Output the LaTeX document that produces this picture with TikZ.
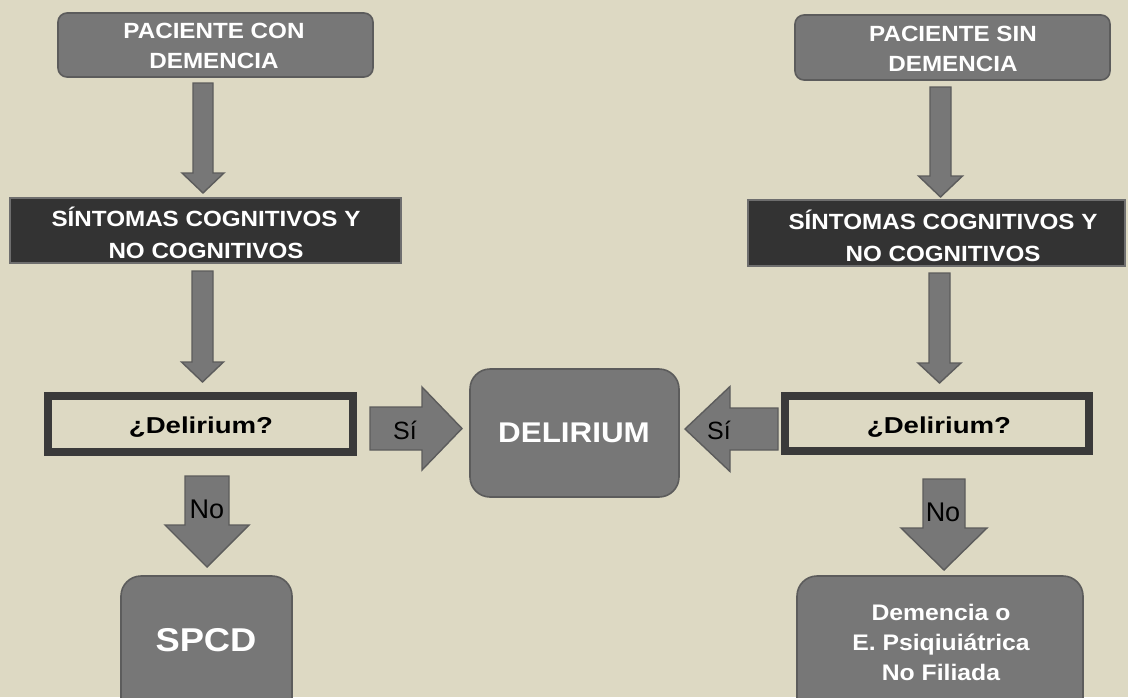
\documentclass[tikz,border=0pt]{standalone}
\usepackage{fontspec}
\setmainfont{Liberation Sans}
\newfontfamily\wfont[FakeStretch=1.1]{Liberation Sans}
\newfontfamily\xfont[FakeStretch=1.2]{Liberation Sans}
\definecolor{bgtan}{HTML}{DDD9C3}
\definecolor{boxgray}{HTML}{777777}
\definecolor{boxedge}{HTML}{5C5C5C}
\definecolor{darkbox}{HTML}{333333}
\definecolor{darkedge}{HTML}{6E6E6E}
\definecolor{frameedge}{HTML}{3A3A3A}

% vertical block arrow: centre x, top y, tip y, shaft half width, head half width, head length
\newcommand{\vblock}[6]{%
  \draw[blockarrow] ({#1-#4},#2) -- ({#1+#4},#2) -- ({#1+#4},{#3-#6}) -- ({#1+#5},{#3-#6})
    -- (#1,#3) -- ({#1-#5},{#3-#6}) -- ({#1-#4},{#3-#6}) -- cycle;}
% horizontal block arrow: centre y, tail x, tip x, shaft half width, head half width, head length (signed)
\newcommand{\hblock}[6]{%
  \draw[blockarrow] (#2,{#1-#4}) -- (#2,{#1+#4}) -- ({#3-#6},{#1+#4}) -- ({#3-#6},{#1+#5})
    -- (#3,#1) -- ({#3-#6},{#1-#5}) -- ({#3-#6},{#1-#4}) -- cycle;}

\tikzset{
  graybox/.style={draw=boxedge, line width=1.6pt, fill=boxgray, rounded corners=#1,
    text=white, align=center},
  darkbar/.style={draw=darkedge, line width=1.6pt, fill=darkbox, text=white, align=center},
  framebox/.style={draw=frameedge, line width=8pt, fill=bgtan, text=black},
  blockarrow/.style={draw=boxedge, line width=1.4pt, fill=boxgray, line join=miter},
  plainlabel/.style={inner sep=0pt, text=black},
}

\begin{document}
\begin{tikzpicture}[x=1pt, y=-1pt]
  \fill[bgtan] (0,0) rectangle (1128,697);
  \useasboundingbox (0,0) rectangle (1128,697);
  \clip (0,0) rectangle (1128,697);

  % boxes
  \draw[graybox=9pt] (58,13) rectangle (373,77);
  \node[text=white, align=center, font=\wfont\bfseries\fontsize{22}{30}\selectfont] (topL) at (214,46)
    {PACIENTE CON\\DEMENCIA};
  \draw[graybox=9pt] (795,15) rectangle (1110,80);
  \node[text=white, align=center, font=\wfont\bfseries\fontsize{22}{30}\selectfont] (topR) at (953,49)
    {PACIENTE SIN\\DEMENCIA};

  \draw[darkbar] (10,198) rectangle (401,263);
  \node[text=white, align=center, font=\wfont\bfseries\fontsize{22}{32}\selectfont] (midL) at (206,233)
    {SÍNTOMAS COGNITIVOS Y\\NO COGNITIVOS};
  \draw[darkbar] (748,200) rectangle (1125,266);
  \node[text=white, align=center, font=\wfont\bfseries\fontsize{22}{32}\selectfont] (midR) at (943,236)
    {SÍNTOMAS COGNITIVOS Y\\NO COGNITIVOS};

  \draw[framebox] (48,396) rectangle (353,452);
  \node[text=black, font=\xfont\bfseries\fontsize{23}{27}\selectfont] (qL) at (201,427) {¿Delirium?};
  \draw[framebox] (785,396) rectangle (1089,451);
  \node[text=black, font=\xfont\bfseries\fontsize{23}{27}\selectfont] (qR) at (939,427) {¿Delirium?};

  \draw[graybox=20pt] (470,369) rectangle (679,497);
  \node[text=white, font=\wfont\bfseries\fontsize{28.5}{32}\selectfont] (del) at (574,433) {DELIRIUM};

  \draw[graybox=20pt] (121,576) rectangle (292,730);
  \node[text=white, font=\wfont\bfseries\fontsize{33}{36}\selectfont] (spcd) at (206,640) {SPCD};

  \draw[graybox=20pt] (797,576) rectangle (1083,730);
  \node[text=white, align=center, font=\wfont\bfseries\fontsize{22.5}{30}\selectfont] (dem) at (941,642)
    {Demencia o\\E. Psiqiuiátrica\\No Filiada};

  % block arrows between the boxes
  \vblock{203}{83}{193}{10}{21}{20}
  \vblock{202.5}{271}{382}{10.5}{21}{20}
  \vblock{940.5}{87}{197}{10.5}{22}{21}
  \vblock{939.5}{273}{383}{10.5}{21.5}{20}
  \vblock{207}{476}{567}{22}{42}{42}
  \vblock{944}{479}{570}{21}{43}{42}
  \hblock{428.5}{370}{462}{21.5}{41.5}{40}
  \hblock{429}{778}{685}{21}{42.5}{-45}

  % arrow labels
  \node[plainlabel, font=\fontsize{25}{28}\selectfont] (siL) at (405,430) {Sí};
  \node[plainlabel, font=\fontsize{25}{28}\selectfont] (siR) at (719,430) {Sí};
  \node[plainlabel, font=\fontsize{27}{30}\selectfont] (noL) at (207,509) {No};
  \node[plainlabel, font=\fontsize{27}{30}\selectfont] (noR) at (943,512) {No};
\end{tikzpicture}
\end{document}
